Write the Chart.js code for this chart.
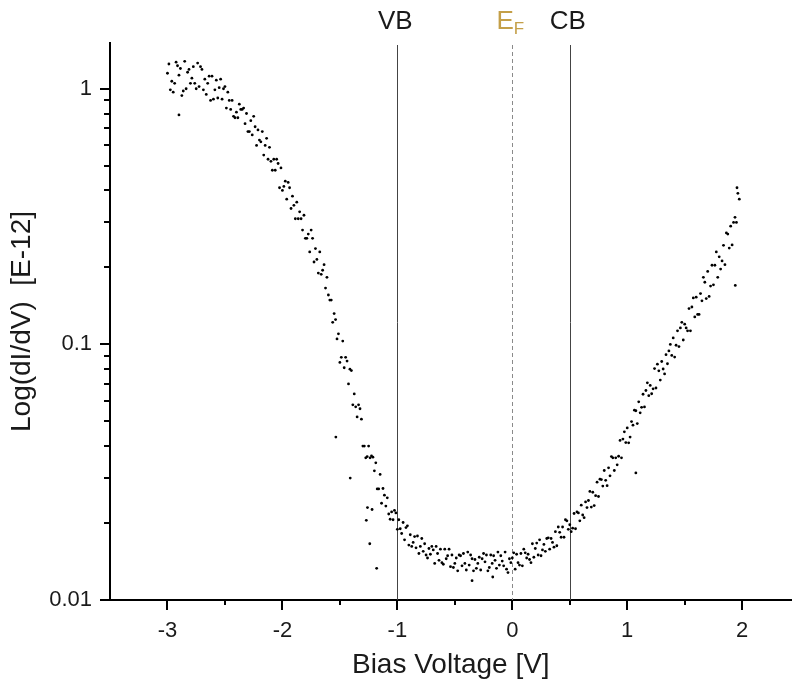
<!DOCTYPE html>
<html lang="en">
<head>
  <meta charset="UTF-8">
  <title>STS spectrum</title>
  <script src="https://cdn.jsdelivr.net/npm/chart.js"></script>
  <style>
    body { margin: 0; background: #fff; }
    canvas { display: block; }
  </style>
</head>
<body>
  <canvas id="sts" width="793" height="689"></canvas>
  <script>
    // bias sweeps [V, dI/dV]
    const sweepA = [
      [-3.00,1.15],[-2.95,0.97],[-2.90,1.13],[-2.85,1.28],[-2.80,1.05],[-2.75,1.00],[-2.70,1.19],[-2.65,1.05],[-2.60,0.91],[-2.55,1.01],
      [-2.50,1.02],[-2.45,0.83],[-2.40,0.81],[-2.35,0.83],[-2.30,0.68],[-2.25,0.78],[-2.20,0.63],[-2.15,0.60],[-2.10,0.52],[-2.05,0.53],
      [-2.00,0.40],[-1.95,0.43],[-1.90,0.35],[-1.85,0.33],[-1.80,0.26],[-1.75,0.28],[-1.70,0.215],[-1.65,0.195],[-1.60,0.156],[-1.55,0.132],
      [-1.50,0.085],[-1.45,0.089],[-1.40,0.079],[-1.35,0.052],[-1.30,0.040],[-1.25,0.040],[-1.20,0.032],[-1.15,0.031],[-1.10,0.0233],[-1.05,0.0221],
      [-1.00,0.0189],[-0.95,0.0201],[-0.90,0.0164],[-0.85,0.0177],[-0.80,0.0162],[-0.75,0.0150],[-0.70,0.0162],[-0.65,0.0152],[-0.60,0.0138],[-0.55,0.0158],
      [-0.50,0.0139],[-0.45,0.0149],[-0.40,0.0131],[-0.35,0.0145],[-0.30,0.0139],[-0.25,0.0152],[-0.20,0.0134],[-0.15,0.0143],[-0.10,0.0149],[-0.05,0.0132],
      [0.00,0.0146],[0.05,0.0140],[0.10,0.0158],[0.15,0.0144],[0.20,0.0159],[0.25,0.0149],[0.30,0.0174],[0.35,0.0168],[0.40,0.0193],[0.45,0.0176],
      [0.50,0.0197],[0.55,0.0190],[0.60,0.0235],[0.65,0.0230],[0.70,0.0264],[0.75,0.0254],[0.80,0.0321],[0.85,0.0306],[0.90,0.0360],[0.95,0.0360],
      [1.00,0.0471],[1.05,0.0483],[1.10,0.0596],[1.15,0.0569],[1.20,0.0691],[1.25,0.0675],[1.30,0.0857],[1.35,0.0840],[1.40,0.106],[1.45,0.098],
      [1.50,0.120],[1.55,0.113],[1.60,0.153],[1.65,0.148],[1.70,0.193],[1.75,0.171],[1.80,0.22],[1.85,0.205],[1.90,0.29],[1.95,0.30]
    ];
    const sweepB = [
      [-2.975,0.99],[-2.925,1.27],[-2.875,0.94],[-2.825,1.16],[-2.775,1.22],[-2.725,1.02],[-2.675,1.09],[-2.625,0.90],[-2.575,1.08],[-2.525,0.91],
      [-2.475,0.97],[-2.425,0.78],[-2.375,0.87],[-2.325,0.73],[-2.275,0.75],[-2.225,0.60],[-2.175,0.68],[-2.125,0.53],[-2.075,0.53],[-2.025,0.41],
      [-1.975,0.435],[-1.925,0.34],[-1.875,0.36],[-1.825,0.28],[-1.775,0.27],[-1.725,0.21],[-1.675,0.23],[-1.625,0.166],[-1.575,0.149],[-1.525,0.105],
      [-1.475,0.103],[-1.425,0.070],[-1.375,0.064],[-1.325,0.056],[-1.275,0.036],[-1.225,0.0366],[-1.175,0.0272],[-1.125,0.0273],[-1.075,0.0217],[-1.025,0.0224],
      [-0.975,0.0190],[-0.925,0.0192],[-0.875,0.0162],[-0.825,0.0178],[-0.775,0.0155],[-0.725,0.0159],[-0.675,0.0139],[-0.625,0.0158],[-0.575,0.0145],[-0.525,0.0150],
      [-0.475,0.0130],[-0.425,0.0152],[-0.375,0.0137],[-0.325,0.0144],[-0.275,0.0131],[-0.225,0.0150],[-0.175,0.0139],[-0.125,0.0154],[-0.075,0.0136],[-0.025,0.0145],
      [0.025,0.0132],[0.075,0.0152],[0.125,0.0146],[0.175,0.0166],[0.225,0.0150],[0.275,0.0165],[0.325,0.0158],[0.375,0.0185],[0.425,0.0176],[0.475,0.0204],
      [0.525,0.0191],[0.575,0.0219],[0.625,0.0210],[0.675,0.0266],[0.725,0.0256],[0.775,0.0296],[0.825,0.0280],[0.875,0.0360],[0.925,0.0365],[0.975,0.0455],
      [1.025,0.0434],[1.075,0.0550],[1.125,0.0567],[1.175,0.0707],[1.225,0.0670],[1.275,0.0788],[1.325,0.0766],[1.375,0.100],[1.425,0.0992],[1.475,0.122],
      [1.525,0.113],[1.575,0.152],[1.625,0.131],[1.675,0.175],[1.725,0.169],[1.775,0.23],[1.825,0.212],[1.875,0.27],[1.925,0.30],[1.975,0.37]
    ];
    const sweepC = [
      [-2.9875,1.25],[-2.9375,1.05],[-2.8875,1.20],[-2.8375,1.00],[-2.7875,1.10],[-2.7375,1.26],[-2.6875,0.99],[-2.6375,1.12],[-2.5875,0.99],[-2.5375,1.09],
      [-2.4875,0.84],[-2.4375,0.90],[-2.3875,0.77],[-2.3375,0.84],[-2.2875,0.68],[-2.2375,0.71],[-2.1875,0.62],[-2.1375,0.64],[-2.0875,0.48],[-2.0375,0.51],
      [-1.9875,0.415],[-1.9375,0.41],[-1.8875,0.31],[-1.8375,0.31],[-1.7875,0.26],[-1.7375,0.26],[-1.6875,0.19],[-1.6375,0.205],[-1.5875,0.149],[-1.5375,0.125],
      [-1.4875,0.089],[-1.4375,0.086],[-1.3875,0.058],[-1.3375,0.058],[-1.2875,0.040],[-1.2375,0.036],[-1.1875,0.0344],[-1.1375,0.0239],[-1.0875,0.0251],[-1.0375,0.0206],
      [-0.9875,0.0206],[-0.9375,0.0172],[-0.8875,0.0180],[-0.8375,0.0160],[-0.7875,0.0174],[-0.7375,0.0146],[-0.6875,0.0157],[-0.6375,0.0143],[-0.5875,0.0158],[-0.5375,0.0135],
      [-0.4875,0.0146],[-0.4375,0.0136],[-0.3875,0.0154],[-0.3375,0.0130],[-0.2875,0.0147],[-0.2375,0.0141],[-0.1875,0.0150],[-0.1375,0.0133],[-0.0875,0.0142],[-0.0375,0.0128],
      [0.0125,0.0153],[0.0625,0.0137],[0.1125,0.0153],[0.1625,0.0140],[0.2125,0.0167],[0.2625,0.0157],[0.3125,0.0175],[0.3625,0.0161],[0.4125,0.0184],[0.4625,0.0206],
      [0.5125,0.0185],[0.5625,0.0221],[0.6125,0.0215],[0.6625,0.0245],[0.7125,0.0234],[0.7625,0.0297],[0.8125,0.0294],[0.8625,0.0364],[0.9125,0.0338],[0.9625,0.0426],
      [1.0125,0.0412],[1.0625,0.0553],[1.1125,0.0540],[1.1625,0.066],[1.2125,0.0641],[1.2625,0.0837],[1.3125,0.0801],[1.3625,0.0943],[1.4125,0.0892],[1.4625,0.116],
      [1.5125,0.116],[1.5625,0.140],[1.6125,0.131],[1.6625,0.183],[1.7125,0.154],[1.7625,0.204],[1.8125,0.197],[1.8625,0.273],[1.9125,0.245],[1.9625,0.39]
    ];
    const sweepD = [
      [-2.9625,1.07],[-2.9125,1.23],[-2.8625,0.98],[-2.8125,1.19],[-2.7625,1.05],[-2.7125,1.22],[-2.6625,0.95],[-2.6125,1.12],[-2.5625,0.92],[-2.5125,1.00],
      [-2.4625,0.90],[-2.4125,0.77],[-2.3625,0.83],[-2.3125,0.80],[-2.2625,0.66],[-2.2125,0.69],[-2.1625,0.55],[-2.1125,0.59],[-2.0625,0.48],[-2.0125,0.49],
      [-1.9625,0.37],[-1.9125,0.38],[-1.8625,0.31],[-1.8125,0.32],[-1.7625,0.23],[-1.7125,0.237],[-1.6625,0.188],[-1.6125,0.183],[-1.5625,0.122],[-1.5125,0.110],
      [-1.4625,0.081],[-1.4125,0.080],[-1.3625,0.057],[-1.3125,0.051],[-1.2625,0.0364],[-1.2125,0.0362],[-1.1625,0.0272],[-1.1125,0.0257],[-1.0625,0.0207],[-1.0125,0.0219],
      [-0.9625,0.0182],[-0.9125,0.0195],[-0.8625,0.0168],[-0.8125,0.0152],[-0.7625,0.0166],[-0.7125,0.0151],[-0.6625,0.0162],[-0.6125,0.0140],[-0.5625,0.0149],[-0.5125,0.0134],
      [-0.4625,0.0150],[-0.4125,0.0139],[-0.3625,0.0150],[-0.3125,0.0133],[-0.2625,0.0145],[-0.2125,0.0130],[-0.1625,0.0149],[-0.1125,0.0137],[-0.0625,0.0154],[-0.0125,0.0140],
      [0.0375,0.0151],[0.0875,0.0136],[0.1375,0.0151],[0.1875,0.0147],[0.2375,0.0172],[0.2875,0.0155],[0.3375,0.0174],[0.3875,0.0163],[0.4375,0.0193],[0.4875,0.0189],
      [0.5375,0.0218],[0.5875,0.0204],[0.6375,0.0242],[0.6875,0.0231],[0.7375,0.0289],[0.7875,0.0279],[0.8375,0.0329],[0.8875,0.0321],[0.9375,0.0421],[0.9875,0.0413],
      [1.0375,0.0499],[1.0875,0.0490],[1.1375,0.0638],[1.1875,0.0630],[1.2375,0.0804],[1.2875,0.0725],[1.3375,0.0911],[1.3875,0.0905],[1.4375,0.113],[1.4875,0.104],
      [1.5375,0.138],[1.5875,0.128],[1.6375,0.158],[1.6875,0.151],[1.7375,0.204],[1.7875,0.183],[1.8375,0.244],[1.8875,0.238],[1.9375,0.314]
    ];
    const strayPoints = [
      [-2.90,0.79],[-1.535,0.0434],[-1.41,0.030],[-1.18,0.0133],[-1.24,0.0166],[-1.27,0.0205],[-1.22,0.0226],[-1.26,0.0230],
      [1.075,0.0314],[-0.35,0.0119],[-0.17,0.0123],[1.955,0.41],[1.94,0.17]
    ];

    const xTicks = [-3, -2, -1, 0, 1, 2];
    const xMinorTicks = [-2.5, -1.5, -0.5, 0.5, 1.5];
    const yTicks = [0.01, 0.1, 1];
    const yMinorSteps = [2, 3, 4, 5, 6, 7, 8, 9];

    const markerValues = [-1, 0, 0.5];
    const markerLabels = ['VB', 'E', 'CB'];
    const markerSub = ['', 'F', ''];

    const toXY = arr => arr.map(p => ({ x: p[0], y: p[1] }));
    const points = [].concat(toXY(sweepA), toXY(sweepB), toXY(sweepC), toXY(sweepD), toXY(strayPoints));

    const FONT = 'Arial, "Liberation Sans", sans-serif';

    const overlay = {
      id: 'overlay',
      beforeDatasetsDraw(chart) {
        const { ctx, chartArea: a, scales: { x } } = chart;
        ctx.save();
        markerValues.forEach((v, i) => {
          const px = Math.round(x.getPixelForValue(v)) + 0.5;
          ctx.beginPath();
          if (markerSub[i]) {
            ctx.strokeStyle = '#8a8a8a';
            ctx.setLineDash([4, 3]);
          } else {
            ctx.strokeStyle = '#444';
            ctx.setLineDash([]);
          }
          ctx.lineWidth = 1;
          ctx.moveTo(px, a.top + 2);
          ctx.lineTo(px, a.bottom);
          ctx.stroke();
        });
        ctx.restore();
      },
      afterDraw(chart) {
        const { ctx, chartArea: a, scales: { x, y } } = chart;
        ctx.save();
        // tick marks, major and minor
        ctx.strokeStyle = '#000';
        ctx.lineWidth = 2;
        ctx.setLineDash([]);
        ctx.beginPath();
        xTicks.forEach(v => {
          const px = Math.round(x.getPixelForValue(v));
          ctx.moveTo(px, a.bottom); ctx.lineTo(px, a.bottom + 10);
        });
        xMinorTicks.forEach(v => {
          const px = Math.round(x.getPixelForValue(v));
          ctx.moveTo(px, a.bottom); ctx.lineTo(px, a.bottom + 5);
        });
        yTicks.forEach(v => {
          const py = Math.round(y.getPixelForValue(v));
          ctx.moveTo(a.left, py); ctx.lineTo(a.left - 10, py);
        });
        yTicks.slice(0, -1).forEach(d => {
          yMinorSteps.forEach(m => {
            const py = Math.round(y.getPixelForValue(d * m));
            ctx.moveTo(a.left, py); ctx.lineTo(a.left - 6, py);
          });
        });
        ctx.stroke();

        // band edge labels above the plot
        ctx.textBaseline = 'alphabetic';
        markerValues.forEach((v, i) => {
          const px = x.getPixelForValue(v);
          ctx.font = '26px ' + FONT;
          const w = ctx.measureText(markerLabels[i]).width;
          if (markerSub[i]) {
            ctx.font = '17px ' + FONT;
            const ws = ctx.measureText(markerSub[i]).width;
            const left = px - (w + ws) / 2 - 2;
            ctx.fillStyle = '#c49f48';
            ctx.font = '26px ' + FONT;
            ctx.fillText(markerLabels[i], left, 29);
            ctx.font = '17px ' + FONT;
            ctx.fillText(markerSub[i], left + w, 34);
          } else {
            ctx.fillStyle = '#1a1a1a';
            ctx.fillText(markerLabels[i], px - w / 2 - 2, 29);
          }
        });
        ctx.restore();
      }
    };

    new Chart(document.getElementById('sts'), {
      type: 'scatter',
      data: {
        datasets: [{
          label: 'dI/dV',
          data: points,
          pointRadius: 1.4,
          pointHoverRadius: 1.4,
          borderWidth: 0,
          backgroundColor: '#000'
        }]
      },
      options: {
        responsive: false,
        animation: false,
        layout: { padding: { top: 43, right: 0, left: 0, bottom: 0 } },
        plugins: { legend: { display: false }, tooltip: { enabled: false } },
        scales: {
          x: {
            type: 'linear',
            min: -3.5,
            max: 2.43,
            afterBuildTicks: s => { s.ticks = xTicks.map(v => ({ value: v })); },
            afterFit: s => { s.height = 89; },
            grid: { display: false, drawTicks: false },
            border: { display: true, color: '#000', width: 2 },
            ticks: { color: '#1a1a1a', font: { family: FONT, size: 22 }, padding: 18, maxRotation: 0 },
            title: { display: true, text: 'Bias Voltage [V]', color: '#1a1a1a', font: { family: FONT, size: 28 }, padding: { top: 0, bottom: 7 } }
          },
          y: {
            type: 'logarithmic',
            min: 0.01,
            max: 1.51,
            afterBuildTicks: s => { s.ticks = yTicks.map(v => ({ value: v, major: true })); },
            afterFit: s => { s.width = 110; },
            grid: { display: false, drawTicks: false },
            border: { display: true, color: '#000', width: 2 },
            ticks: { color: '#1a1a1a', font: { family: FONT, size: 22 }, padding: 18, callback: v => String(v) },
            title: { display: true, text: 'Log(dI/dV)  [E-12]', color: '#1a1a1a', font: { family: FONT, size: 28 }, padding: { top: 5, bottom: 0 } }
          }
        }
      },
      plugins: [overlay]
    });
  </script>
</body>
</html>
